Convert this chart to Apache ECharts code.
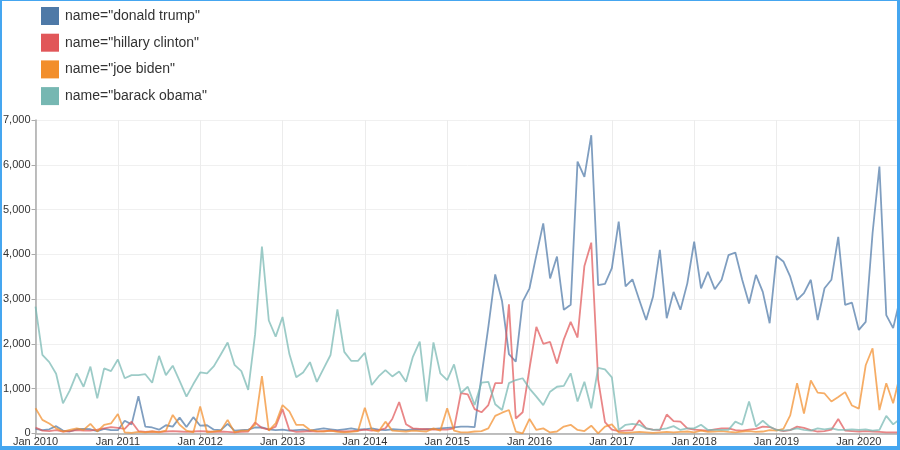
<!DOCTYPE html>
<html>
<head>
<meta charset="utf-8">
<script src="https://cdn.jsdelivr.net/npm/echarts@6/dist/echarts.min.js"></script>
<style>
html,body{margin:0;padding:0;background:#fff;}
#chart{position:absolute;left:0;top:0;width:900px;height:450px;}
#frame{position:absolute;left:0;top:0;width:900px;height:450px;box-sizing:border-box;
  border-left:2px solid #45a6f0;border-top:1px solid #45a6f0;border-right:3px solid #45a6f0;border-bottom:4px solid #45a6f0;pointer-events:none;}
</style>
</head>
<body>
<div id="chart"></div>
<div id="frame"></div>
<script>
// Monthly series, Jan 2010 onward
const startYear = 2010;
const monthNames = ['Jan','Feb','Mar','Apr','May','Jun','Jul','Aug','Sep','Oct','Nov','Dec'];
const seriesNames = ['name="donald trump"','name="hillary clinton"','name="joe biden"','name="barack obama"'];
const yTicks = [0,1000,2000,3000,4000,5000,6000,7000];

const trump = [
100,70,90,160,60,40,90,100,90,50,100,70,
70,280,200,830,150,130,80,180,150,350,140,360,
170,180,80,70,210,60,70,80,130,130,90,70,
80,60,70,80,60,90,110,90,70,90,110,80,
90,110,80,70,90,80,70,90,80,90,100,110,
120,130,150,150,140,1270,2380,3550,2950,1770,1600,2940,
3240,3980,4690,3460,3950,2760,2870,6070,5730,6660,3310,3340,
3690,4730,3280,3440,2980,2530,3050,4100,2570,3160,2760,3350,
4280,3240,3610,3220,3430,3980,4040,3430,2900,3540,3160,2460,
3960,3840,3500,2980,3130,3430,2530,3240,3430,4390,2870,2920,
2310,2490,4470,5960,2640,2350,3000];

const clinton = [
130,60,50,70,40,50,70,60,60,80,110,140,
120,100,260,50,30,40,30,40,50,40,30,40,
50,40,30,40,30,20,30,40,240,120,80,150,
540,70,30,40,50,40,50,60,50,40,50,60,
80,60,70,110,320,700,200,110,100,90,80,80,
80,110,900,870,540,470,630,1120,1120,2880,330,470,
1450,2380,2000,2040,1560,2100,2490,2140,3740,4260,1200,250,
80,50,60,70,290,110,80,70,420,270,260,110,
80,70,60,90,110,110,70,60,80,100,150,140,
80,50,70,150,120,70,40,50,80,320,60,50,
40,50,40,30,20,20,20];

const biden = [
560,300,220,110,40,75,110,75,210,40,190,220,
430,20,10,30,20,40,20,60,410,190,60,20,
600,20,40,60,300,20,60,60,190,1280,60,220,
630,490,190,190,75,50,40,60,30,20,30,50,
570,80,40,260,60,50,40,60,50,40,110,60,
560,60,20,20,40,50,110,390,460,520,40,0,
320,75,110,20,40,150,190,75,50,170,0,150,
200,20,10,20,30,20,10,20,30,20,30,40,
20,60,30,40,50,30,20,40,50,30,40,70,
60,100,400,1120,440,1180,910,890,710,810,920,620,
550,1520,1900,520,1120,670,1300];

const obama = [
2830,1750,1590,1330,670,960,1340,1040,1490,780,1450,1390,
1650,1230,1300,1300,1320,1130,1730,1300,1510,1170,820,1100,
1360,1340,1500,1760,2030,1530,1390,970,2210,4170,2520,2160,
2600,1770,1250,1360,1590,1150,1450,1750,2770,1820,1620,1620,
1800,1080,1270,1410,1270,1380,1150,1710,2050,710,2030,1340,
1190,1540,900,1040,630,1130,1150,650,520,1120,1190,1230,
1000,820,630,930,1040,1060,1340,710,1150,560,1460,1430,
1250,75,190,210,190,110,75,90,110,160,75,110,
110,190,75,75,75,75,260,190,710,150,280,150,
75,60,75,110,75,60,110,90,110,75,75,90,
75,90,60,75,390,200,320];

const colors = ['#4e79a7','#e15759','#f28e2b','#76b7b2'];

const categories = trump.map((_, i) => monthNames[i % 12] + ' ' + (startYear + Math.floor(i / 12)));

const chart = echarts.init(document.getElementById('chart'), null, {renderer:'canvas'});
const data = [trump, clinton, biden, obama];
chart.setOption({
  animation: false,
  textStyle: {fontFamily: 'Liberation Sans, Arial, sans-serif'},
  color: colors,
  legend: {
    orient: 'vertical', left: 41, top: 7, padding: 0,
    itemWidth: 18, itemHeight: 18, itemGap: 8.7,
    icon: 'rect',
    textStyle: {fontSize: 14, color: '#333', fontFamily: 'Liberation Sans, Arial, sans-serif', padding: [0,0,0,1]},
    data: seriesNames
  },
  grid: {left: 35, right: -2.6, top: 120, bottom: 16.7, containLabel: false},
  xAxis: {
    type: 'category', data: categories, boundaryGap: false,
    axisLine: {lineStyle: {color: '#aaa', width: 1.5}},
    axisTick: {interval: 11, length: 4, lineStyle: {color: '#aaa'}},
    axisLabel: {interval: 11, fontSize: 11, color: '#333', margin: 3},
    splitLine: {show: true, interval: 11, lineStyle: {color: '#ececec', width: 1}}
  },
  yAxis: {
    type: 'value', min: yTicks[0], max: yTicks[yTicks.length - 1], interval: 1000,
    axisLine: {show: true, lineStyle: {color: '#aaa', width: 1.5}},
    axisTick: {show: true, length: 4, lineStyle: {color: '#aaa'}},
    axisLabel: {fontSize: 11, color: '#333', margin: 5,
      formatter: v => v.toLocaleString('en-US')},
    splitLine: {show: true, lineStyle: {color: '#f0f0f0', width: 1}}
  },
  series: seriesNames.map((n, k) => ({
    name: n, type: 'line', data: data[k], showSymbol: false, symbol: 'none',
    lineStyle: {width: 1.8, opacity: 0.72, color: colors[k]},
    itemStyle: {color: colors[k]},
    emphasis: {disabled: true}
  }))
});
</script>
</body>
</html>
